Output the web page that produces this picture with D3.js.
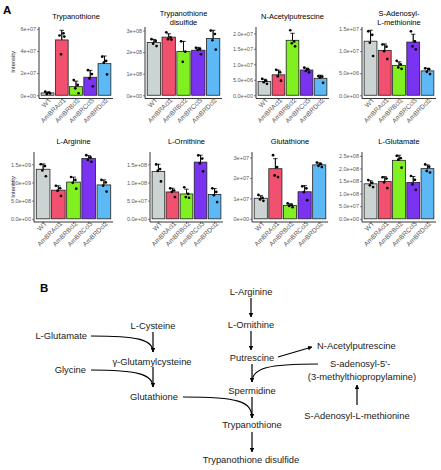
<!DOCTYPE html>
<html>
<head>
<meta charset="utf-8">
<script src="https://cdn.jsdelivr.net/npm/d3@7"></script>
<style>
html,body{margin:0;padding:0;background:#fff;}
svg{display:block;font-family:"Liberation Sans",Arial,sans-serif;}
</style>
</head>
<body>
<svg id="chart" width="441" height="470"></svg>
<script>
// ---------------- DATA ----------------
const groups = ["WT","AmBRAcl1","AmBRBcl2","AmBRCcl3","AmBRDcl2"];
const groupColors = ["#CCD3D3","#F2506F","#80F020","#7A33F0","#5CB9F5"];

const metabolites = ["Trypanothione","Trypanothione disulfide","N-Acetylputrescine","S-Adenosyl-L-methionine",
                     "L-Arginine","L-Ornithine","Glutathione","L-Glutamate"];
const titleLines = [["Trypanothione"],["Trypanothione","disulfide"],["N-Acetylputrescine"],["S-Adenosyl-","L-methionine"],
                    ["L-Arginine"],["L-Ornithine"],["Glutathione"],["L-Glutamate"]];

// replicate intensities per group (WT, AmBRAcl1, AmBRBcl2, AmBRCcl3, AmBRDcl2)
const trypanothione = [[3.2e6,2.4e6,1.2e6,1.6e6],[5.4e7,5.6e7,3.7e7,5.3e7],[1.37e7,0.93e7,0.63e7,0.18e7],[2.27e7,1.91e7,1.52e7,0.81e7],[3.49e7,3.1e7,2.96e7,1.88e7]];
const trypanothioneDisulfide = [[2.6e8,2.52e8,2.39e8,2.28e8],[2.92e8,2.68e8,2.6e8,2.58e8],[2.5e8,2.02e8,1.55e8],[2.2e8,2.15e8,2.1e8,1.9e8],[3.0e8,2.84e8,2.55e8,2.12e8]];
const nAcetylputrescine = [[0.53e7,0.47e7,0.42e7,0.37e7],[0.82e7,0.74e7,0.61e7,0.47e7],[2.1e7,1.74e7,1.68e7,1.58e7],[0.89e7,0.84e7,0.79e7,0.74e7],[0.62e7,0.6e7,0.57e7,0.4e7]];
const sAdenosylMethionine = [[1.45e7,1.37e7,1.19e7,0.89e7],[1.15e7,1.1e7,1.0e7,0.82e7],[0.78e7,0.7e7,0.63e7,0.6e7],[1.45e7,1.22e7,1.11e7,1.04e7],[0.61e7,0.59e7,0.53e7,0.48e7]];
const lArginine = [[1.5e9,1.45e9,1.33e9,1.17e9],[0.91e9,0.84e9,0.77e9,0.63e9],[1.15e9,1.07e9,0.99e9,0.83e9],[1.75e9,1.69e9,1.62e9,1.57e9],[1.07e9,1.0e9,0.91e9,0.75e9]];
const lOrnithine = [[1.5e8,1.37e8,1.32e8,1.03e8],[0.84e8,0.78e8,0.74e8,0.6e8],[0.87e8,0.69e8,0.6e8,0.58e8],[1.75e8,1.66e8,1.53e8,1.31e8],[0.84e8,0.74e8,0.65e8,0.46e8]];
const glutathione = [[1.17e7,1.02e7,0.95e7,0.88e7],[3.11e7,2.53e7,2.12e7,2.04e7],[0.75e7,0.68e7,0.63e7,0.57e7],[1.59e7,1.49e7,1.3e7,0.91e7],[2.75e7,2.68e7,2.59e7,2.53e7]];
const lGlutamate = [[1.54e8,1.43e8,1.33e8,1.26e8],[1.65e8,1.6e8,1.45e8,1.22e8],[2.5e8,2.41e8,2.35e8,2.03e8],[1.7e8,1.55e8,1.37e8,1.15e8],[2.16e8,2.07e8,1.9e8,1.84e8]];
const panelData = [trypanothione,trypanothioneDisulfide,nAcetylputrescine,sAdenosylMethionine,lArginine,lOrnithine,glutathione,lGlutamate];

// y tick values / labels per panel
const tickValues = [
  [0,2e7,4e7,6e7],[0,1e8,2e8,3e8],[0,5e6,1e7,1.5e7,2e7],[0,5e6,1e7,1.5e7],
  [0,5e8,1e9,1.5e9],[0,5e7,1e8,1.5e8],[0,1e7,2e7,3e7],[0,5e7,1e8,1.5e8,2e8,2.5e8]];
const tickLabels = [
  ["0e+00","2e+07","4e+07","6e+07"],["0e+00","1e+08","2e+08","3e+08"],
  ["0.0e+00","5.0e+06","1.0e+07","1.5e+07","2.0e+07"],["0.0e+00","5.0e+06","1.0e+07","1.5e+07"],
  ["0.0e+00","5.0e+08","1.0e+09","1.5e+09"],["0.0e+00","5.0e+07","1.0e+08","1.5e+08"],
  ["0e+00","1e+07","2e+07","3e+07"],["0.0e+00","5.0e+07","1.0e+08","1.5e+08","2.0e+08","2.5e+08"]];

// ---------------- LAYOUT ----------------
const panelBoxes = [ // [left, right, top, bottom] of plotting area
  [39,113,27,98.5],[145,222,27,98.5],[256,329,27,98.5],[362,436,27,98.5],
  [34,113,152,222],[150,223,152,222],[252,328,152,222],[362,436,152,222]];
const jitter = [-0.16,0.12,-0.05,0.18];

const svg = d3.select("#chart");
svg.append("rect").attr("width",441).attr("height",470).attr("fill","#fff");

svg.append("text").attr("x",3).attr("y",14).attr("font-size",11.5).attr("font-weight","bold").text("A");
svg.append("text").attr("x",40).attr("y",292).attr("font-size",11.5).attr("font-weight","bold").text("B");

panelData.forEach((data,pi)=>{
  const [L,R,T,B] = panelBoxes[pi];
  const stats = data.map(v=>({mean:d3.mean(v), sd:d3.deviation(v)}));
  const M = d3.max(data.map((v,i)=>Math.max(stats[i].mean+stats[i].sd, d3.max(v))));
  const y = d3.scaleLinear().domain([-0.05*M, 1.05*M]).range([B,T]);
  const x = d3.scaleBand().domain(groups).range([L,R]).paddingInner(0.1).paddingOuter(0.15);
  const g = svg.append("g");

  // error bars (behind bars)
  const ebs = g.append("g");
  groups.forEach((gr,i)=>{
    const cx = x(gr)+x.bandwidth()/2, cw = x.bandwidth()*0.17;
    const y1 = y(stats[i].mean+stats[i].sd), y0 = y(Math.max(0,stats[i].mean-stats[i].sd));
    ebs.append("line").attr("x1",cx).attr("x2",cx).attr("y1",y1).attr("y2",y0).attr("stroke","#000").attr("stroke-width",0.8);
    ebs.append("line").attr("x1",cx-cw).attr("x2",cx+cw).attr("y1",y1).attr("y2",y1).attr("stroke","#000").attr("stroke-width",0.8);
  });
  // bars
  g.selectAll("rect.bar").data(groups).enter().append("rect")
    .attr("x",d=>x(d)).attr("width",x.bandwidth())
    .attr("y",(d,i)=>y(stats[i].mean)).attr("height",(d,i)=>y(0)-y(stats[i].mean))
    .attr("fill",(d,i)=>groupColors[i]).attr("stroke","#222").attr("stroke-width",0.8);
  // error bars (upper part over bar)
  groups.forEach((gr,i)=>{
    const cx = x(gr)+x.bandwidth()/2;
    g.append("line").attr("x1",cx).attr("x2",cx).attr("y1",y(stats[i].mean+stats[i].sd)).attr("y2",y(stats[i].mean)).attr("stroke","#000").attr("stroke-width",0.8);
  });
  // points
  groups.forEach((gr,i)=>{
    data[i].forEach((v,k)=>{
      g.append("circle").attr("cx",x(gr)+x.bandwidth()/2+jitter[k%4]*x.step()).attr("cy",y(v)).attr("r",1.35).attr("fill","#000");
    });
  });

  // axes
  const yAxis = d3.axisLeft(y).tickValues(tickValues[pi]).tickFormat((d,i)=>tickLabels[pi][i]).tickSize(2).tickSizeOuter(0).tickPadding(1);
  const ya = g.append("g").attr("transform",`translate(${L},0)`).call(yAxis);
  const xAxis = d3.axisBottom(x).tickSize(2).tickSizeOuter(0).tickPadding(1);
  const xa = g.append("g").attr("transform",`translate(0,${B})`).call(xAxis);
  [ya,xa].forEach(a=>{
    a.select(".domain").attr("stroke","#000").attr("stroke-width",0.8).attr("d", a===ya ? `M0,${T}V${B}` : `M${L},0H${R}`);
    a.selectAll(".tick line").attr("stroke","#333").attr("stroke-width",0.6);
    a.selectAll("text").attr("fill","#5a5a5a").attr("font-family","Liberation Sans, Arial, sans-serif");
  });
  ya.selectAll("text").attr("font-size",5.5);
  xa.selectAll("text").attr("font-size",6.6).attr("text-anchor","end")
    .attr("dy","0").attr("y",4.5).attr("x",1.5)
    .attr("transform","rotate(-45)");

  // title
  const tl = titleLines[pi];
  const cx = (L+R)/2;
  tl.forEach((line,j)=>{
    const yy = tl.length===1 ? T-8.5 : T-11.5+j*9.5;
    g.append("text").attr("x",cx).attr("y",yy).attr("text-anchor","middle").attr("font-size",7.5).attr("fill","#000").text(line);
  });
});

// y labels
[[15,62],[15,187]].forEach(([xx,yy])=>{
  svg.append("text").attr("transform",`translate(${xx},${yy}) rotate(-90)`).attr("text-anchor","middle")
    .attr("font-size",5.8).attr("fill","#222").text("Intensity");
});

// ---------------- PATHWAY (panel B) ----------------
const defs = svg.append("defs");
defs.append("marker").attr("id","ah").attr("viewBox","0 0 10 10").attr("refX",9).attr("refY",5)
  .attr("markerWidth",4.5).attr("markerHeight",4.5).attr("markerUnits","userSpaceOnUse").attr("orient","auto")
  .append("path").attr("d","M0,0 L10,5 L0,10 Z").attr("fill","#000");

const pathwayNodes = [
  {t:"L-Glutamate", x:87, y:336, a:"end"},
  {t:"L-Cysteine", x:153, y:326, a:"middle"},
  {t:"γ-Glutamylcysteine", x:152, y:362, a:"middle"},
  {t:"Glycine", x:86, y:370, a:"end"},
  {t:"Glutathione", x:154, y:397, a:"middle"},
  {t:"L-Arginine", x:251, y:292, a:"middle"},
  {t:"L-Ornithine", x:251, y:325, a:"middle"},
  {t:"Putrescine", x:252, y:358, a:"middle"},
  {t:"N-Acetylputrescine", x:317, y:346, a:"start"},
  {t:"S-adenosyl-5'-", x:360, y:364, a:"middle"},
  {t:"(3-methylthiopropylamine)", x:362, y:377, a:"middle"},
  {t:"Spermidine", x:252, y:391, a:"middle"},
  {t:"S-Adenosyl-L-methionine", x:357, y:416, a:"middle"},
  {t:"Trypanothione", x:252, y:425, a:"middle"},
  {t:"Trypanothione disulfide", x:251, y:460, a:"middle"}
];
svg.append("g").selectAll("text").data(pathwayNodes).enter().append("text")
  .attr("x",d=>d.x).attr("y",d=>d.y+3.3).attr("text-anchor",d=>d.a)
  .attr("font-size",9.4).attr("fill","#1a1a1a").text(d=>d.t);

const pathwayLinks = [
  {d:"M91,336 C136,336 153,339 153,352", m:false},
  {d:"M153,332 L153,352", m:true},
  {d:"M91,370 C136,370 153,374 153,387", m:false},
  {d:"M153,367 L153,387", m:true},
  {d:"M183,397 C238,397 252,401 252,418", m:false},
  {d:"M252,397 L252,418", m:true},
  {d:"M251,298 L251,317", m:true},
  {d:"M251,331 L251,350", m:true},
  {d:"M252,364 L252,382", m:true},
  {d:"M318,364 C268,364 252,368 252,382", m:false},
  {d:"M278,357 L312,347", m:true},
  {d:"M357,405 L357,385", m:true},
  {d:"M252,432 L252,452", m:true}
];
svg.append("g").selectAll("path").data(pathwayLinks).enter().append("path")
  .attr("d",d=>d.d).attr("fill","none").attr("stroke","#000").attr("stroke-width",1.2)
  .attr("marker-end",d=>d.m?"url(#ah)":null);
</script>
</body>
</html>
